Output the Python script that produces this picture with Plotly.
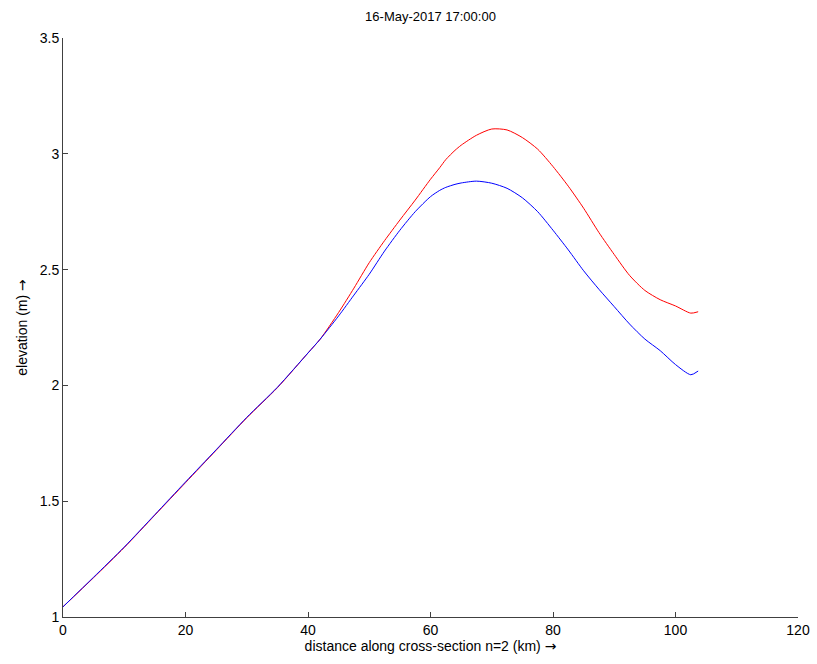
import plotly.graph_objects as go

distance_km = [0, 5, 10, 15, 20, 25, 30, 35, 40, 42, 45, 47.5, 50, 52.5, 55, 57.5, 60, 61.5,
               62.5, 64, 65, 67.5, 70, 72.5, 75, 77.5, 80, 82.5, 85, 87.5, 90, 92.5, 95,
               97.5, 100, 102.5, 103.7]

elev_red = [1.044, 1.17, 1.30, 1.44, 1.58, 1.72, 1.86, 1.99, 2.14, 2.20, 2.315, 2.42, 2.53,
            2.625, 2.714, 2.80, 2.89, 2.94, 2.975, 3.015, 3.037, 3.08, 3.107, 3.103, 3.07,
            3.02, 2.945, 2.86, 2.765, 2.66, 2.565, 2.475, 2.41, 2.37, 2.343, 2.312, 2.318]

elev_blue = [1.044, 1.172, 1.302, 1.442, 1.583, 1.722, 1.862, 1.992, 2.14, 2.20, 2.30, 2.39,
             2.48, 2.58, 2.67, 2.75, 2.815, 2.842, 2.855, 2.868, 2.874, 2.882, 2.873, 2.851,
             2.81, 2.75, 2.67, 2.585, 2.495, 2.415, 2.34, 2.265, 2.20, 2.15, 2.09, 2.046,
             2.062]

x_ticks = [0, 20, 40, 60, 80, 100, 120]
y_ticks = [1, 1.5, 2, 2.5, 3, 3.5]
y_tick_labels = ["1", "1.5", "2", "2.5", "3", "3.5"]

font = "Liberation Sans, Arial, sans-serif"
arrow = '<span style="font-family:DejaVu Sans">→</span>'

fig = go.Figure()
fig.add_trace(go.Scatter(x=distance_km, y=elev_red, mode="lines", line_shape="spline",
                         line=dict(color="#ff0000", width=1, smoothing=0.7), showlegend=False))
fig.add_trace(go.Scatter(x=distance_km, y=elev_blue, mode="lines", line_shape="spline",
                         line=dict(color="#0000ff", width=1, smoothing=0.7), showlegend=False))

fig.update_layout(
    width=817, height=664, autosize=False,
    margin=dict(l=63, r=19, t=38, b=47, pad=0, autoexpand=False),
    paper_bgcolor="white", plot_bgcolor="white",
    font=dict(family=font, size=14, color="black"),
    title=dict(text="16-May-2017 17:00:00", x=(63 + 798) / 2 / 817, xanchor="center",
               y=1 - 16 / 664, yanchor="middle", font=dict(size=13, family=font, color="black")),
    xaxis=dict(range=[0, 120], tickvals=x_ticks, ticks="inside", ticklen=5, tickcolor="#404040",
               showline=True, linecolor="#404040", linewidth=1, showgrid=False, zeroline=False,
               automargin=False,
               tickfont=dict(size=14), title=dict(text="distance along cross-section n=2 (km) " + arrow,
               font=dict(size=14), standoff=4)),
    yaxis=dict(range=[1, 3.5], tickvals=y_ticks, ticktext=y_tick_labels, ticks="inside",
               ticklen=5, tickcolor="#404040", showline=True, linecolor="#404040", linewidth=1,
               showgrid=False, zeroline=False, automargin=False, tickfont=dict(size=14),
               title=dict(text="elevation (m) " + arrow, font=dict(size=14), standoff=8)),
)

fig.write_html("out.html", config={"responsive": False})
